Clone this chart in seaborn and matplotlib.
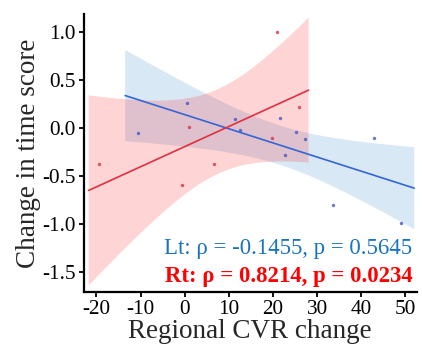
import numpy as np
import pandas as pd
import matplotlib
matplotlib.use("Agg")
import matplotlib.pyplot as plt
import seaborn as sns

# Data
lt_cvr = [0.5, -10.5, 11.3, 12.6, 21.6, 25.1, 27.2, 22.7, 42.8, 33.6, 49.0]
lt_time = [0.26, -0.05, 0.09, -0.02, 0.10, -0.04, -0.12, -0.28, -0.10, -0.80, -0.99]
rt_cvr = [21.0, 1.0, 19.8, 25.8, -19.5, 6.7, -0.7]
rt_time = [1.00, 0.01, -0.11, 0.22, -0.38, -0.38, -0.59]
lt_label = "Lt: ρ = -0.1455, p = 0.5645"
rt_label = "Rt: ρ = 0.8214, p = 0.0234"
x_ticks = [-20, -10, 0, 10, 20, 30, 40, 50]
y_ticks = [-1.5, -1.0, -0.5, 0.0, 0.5, 1.0]

lt = pd.DataFrame({"cvr": lt_cvr, "time": lt_time})
rt = pd.DataFrame({"cvr": rt_cvr, "time": rt_time})


def t_crit(df, conf=0.95):
    """Two-sided Student t critical value via numeric integration of the pdf."""
    t = np.linspace(0, 80, 800001)
    pdf = (1 + t ** 2 / df) ** (-(df + 1) / 2)
    cdf = np.concatenate([[0], np.cumsum((pdf[1:] + pdf[:-1]) / 2 * np.diff(t))])
    cdf = cdf / cdf[-1]
    return t[np.searchsorted(cdf, conf)]


sns.set_style("white")
plt.rcParams["font.family"] = ["Liberation Serif", "DejaVu Serif"]

fig = plt.figure(figsize=(4.22, 3.52), dpi=100)
ax = fig.add_axes([0.198, 0.170, 0.789, 0.789])


def draw(df, pt_color, line_color, band_rgba):
    x = df["cvr"].to_numpy()
    y = df["time"].to_numpy()
    lo, hi = x.min(), x.max()
    span = hi - lo
    ax.set_xlim(lo - 0.05 * span, hi + 0.05 * span)
    sns.regplot(data=df, x="cvr", y="time", ax=ax, truncate=False, ci=None,
                scatter_kws=dict(s=6, color=pt_color, linewidths=0, zorder=3),
                line_kws=dict(color=line_color, lw=1.2, zorder=2))
    grid = ax.lines[-1].get_xdata()
    n = len(x)
    slope, intercept = np.polyfit(x, y, 1)
    resid = y - (slope * x + intercept)
    s = np.sqrt(np.sum(resid ** 2) / (n - 2))
    sxx = np.sum((x - x.mean()) ** 2)
    se = s * np.sqrt(1.0 / n + (grid - x.mean()) ** 2 / sxx)
    tc = t_crit(n - 2)
    yhat = slope * grid + intercept
    ax.fill_between(grid, yhat - tc * se, yhat + tc * se, facecolor=band_rgba,
                    edgecolor="none", zorder=1)


draw(lt, "#4655c4", "#3366d6", (30/255, 120/255, 200/255, 0.17))
draw(rt, "#d23444", "#e0303f", (1.0, 0.0, 0.04, 0.17))

ax.set_xlim(-22.9, 52.5)
ax.set_ylim(-1.708, 1.18)
ax.set_xticks(x_ticks)
ax.set_yticks(y_ticks)
ax.set_xticklabels([str(v) for v in x_ticks])
ax.set_yticklabels([f"{v:.1f}" for v in y_ticks])
ax.tick_params(axis="both", which="major", labelsize=15.3, length=3.5, width=1.3,
               direction="out", bottom=True, left=True, colors="black", pad=2)
sns.despine(ax=ax)
for sp in ["left", "bottom"]:
    ax.spines[sp].set_linewidth(1.6)
    ax.spines[sp].set_color("black")

ax.set_xlabel("Regional CVR change", fontsize=19.5, labelpad=0)
ax.set_ylabel("Change in time score", fontsize=19.5, labelpad=1)

ax.text(0.988, 0.137, lt_label, transform=ax.transAxes, ha="right", va="baseline",
        fontsize=16.4, color="#1a73be")
ax.text(0.988, 0.038, rt_label, transform=ax.transAxes, ha="right", va="baseline",
        fontsize=16.4, color="#ff0000", fontweight="bold")

fig.savefig("out.png", dpi=100)
